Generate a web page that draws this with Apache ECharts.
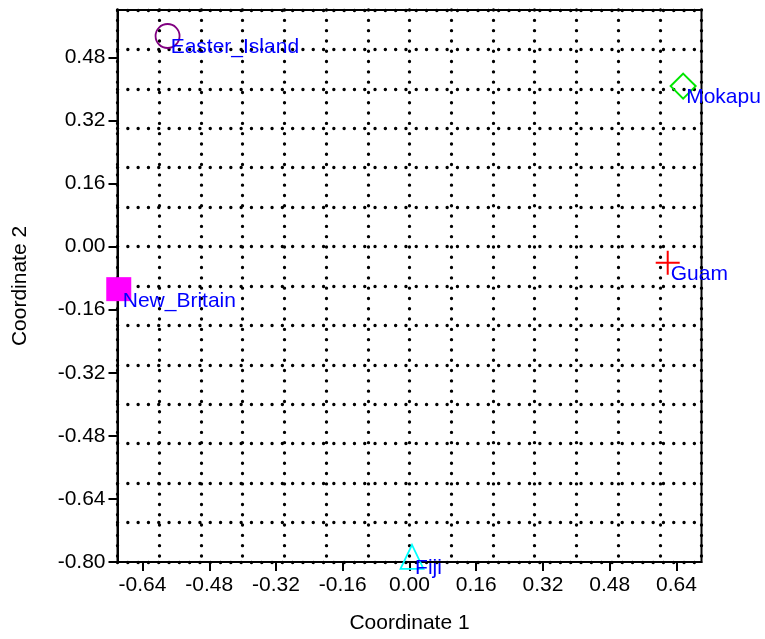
<!DOCTYPE html>
<html>
<head>
<meta charset="utf-8">
<title>Coordinate 1 vs Coordinate 2</title>
<script src="https://cdn.jsdelivr.net/npm/echarts@6/dist/echarts.min.js"></script>
<style>
  html, body { margin: 0; padding: 0; background: #ffffff; }
  #chart { width: 765px; height: 639px; }
</style>
</head>
<body>
<div id="chart"></div>
<script>
// Site positions in the two-dimensional ordination
const sites = ['Easter_Island', 'Mokapu', 'New_Britain', 'Guam', 'Fiji'];
const coord1 = [-0.580, 0.656, -0.697, 0.619, 0.006];
const coord2 = [0.534, 0.407, -0.108, -0.041, -0.787];

// Labelled tick positions on each axis
const coord1Ticks = [-0.64, -0.48, -0.32, -0.16, 0.00, 0.16, 0.32, 0.48, 0.64];
const coord2Ticks = [-0.80, -0.64, -0.48, -0.32, -0.16, 0.00, 0.16, 0.32, 0.48];

// Marker appearance per site
const markerStyles = {
  Easter_Island: { symbol: 'circle', size: [24, 24], fill: 'rgba(0,0,0,0)', stroke: '#800080', width: 1.8 },
  Mokapu:        { symbol: 'diamond', size: [25, 25], fill: 'rgba(0,0,0,0)', stroke: '#00e600', width: 2 },
  New_Britain:   { symbol: 'rect', size: [25, 24], fill: '#ff00ff', stroke: '#ff00ff', width: 0 },
  Guam:          { symbol: 'path://M12,0L12,24M0,12L24,12', size: [24, 24], fill: 'rgba(0,0,0,0)', stroke: '#ff0000', width: 2 },
  Fiji:          { symbol: 'triangle', size: [23, 24], fill: 'rgba(0,0,0,0)', stroke: '#00ffff', width: 1.8 }
};

const FONT = 'Liberation Sans, Arial, sans-serif';
const FS = 21;
const dotted = { color: '#000', width: 3.3, type: [0.1, 10.2], cap: 'round' };

const series = sites.map((name, i) => {
  const st = markerStyles[name];
  return {
    name: name,
    type: 'scatter',
    xAxisIndex: 1,
    yAxisIndex: 1,
    clip: false,
    symbol: st.symbol,
    symbolSize: st.size,
    itemStyle: { color: st.fill, borderColor: st.stroke, borderWidth: st.width, opacity: 1 },
    label: {
      show: true,
      formatter: name,
      position: [st.size[0] / 2 + 4, st.size[1] / 2 + 12.5],
      align: 'left',
      verticalAlign: 'middle',
      color: '#0000ff',
      fontSize: FS,
      fontFamily: FONT
    },
    emphasis: { disabled: true },
    z: 5,
    data: [[coord1[i], coord2[i]]]
  };
});

const xRange = { min: -0.7, max: 0.7 };
const yRange = { min: -0.8, max: 0.6 };
const tickFmt = v => Number(v).toFixed(2);

const chart = echarts.init(document.getElementById('chart'), null, { renderer: 'canvas' });
chart.setOption({
  animation: false,
  backgroundColor: '#ffffff',
  textStyle: { fontFamily: FONT },
  grid: {
    left: 117.5, top: 10, width: 584, height: 552,
    show: true, borderColor: '#000', borderWidth: 2, backgroundColor: 'rgba(0,0,0,0)'
  },
  xAxis: [
    {
      // dotted grid every 0.1
      type: 'value', position: 'bottom',
      min: xRange.min, max: xRange.max, interval: 0.1,
      axisLine: { show: false },
      axisTick: { show: false },
      axisLabel: { show: false },
      splitLine: { show: true, lineStyle: dotted }
    },
    {
      // labelled axis
      type: 'value', position: 'bottom',
      min: xRange.min, max: xRange.max,
      name: 'Coordinate 1',
      nameLocation: 'middle',
      nameGap: 51,
      nameTextStyle: { fontSize: FS, color: '#000', fontFamily: FONT },
      axisLine: { show: true, onZero: false, lineStyle: { color: '#000', width: 2 } },
      axisTick: { show: true, customValues: coord1Ticks, length: 9, inside: false, lineStyle: { color: '#000', width: 2 } },
      axisLabel: {
        show: true, customValues: coord1Ticks, margin: 13,
        fontSize: FS, color: '#000', fontFamily: FONT, formatter: tickFmt
      },
      splitLine: { show: false }
    }
  ],
  yAxis: [
    {
      type: 'value', position: 'left',
      min: yRange.min, max: yRange.max, interval: 0.1,
      axisLine: { show: false },
      axisTick: { show: false },
      axisLabel: { show: false },
      splitLine: { show: true, lineStyle: dotted }
    },
    {
      type: 'value', position: 'left',
      min: yRange.min, max: yRange.max,
      name: 'Coordinate 2',
      nameLocation: 'middle',
      nameGap: 87,
      nameTextStyle: { fontSize: FS, color: '#000', fontFamily: FONT },
      axisLine: { show: true, onZero: false, lineStyle: { color: '#000', width: 2 } },
      axisTick: { show: true, customValues: coord2Ticks, length: 9, inside: false, lineStyle: { color: '#000', width: 2 } },
      axisLabel: {
        show: true, customValues: coord2Ticks, margin: 12,
        fontSize: FS, color: '#000', fontFamily: FONT, formatter: tickFmt
      },
      splitLine: { show: false }
    }
  ],
  series: series
});
</script>
</body>
</html>
